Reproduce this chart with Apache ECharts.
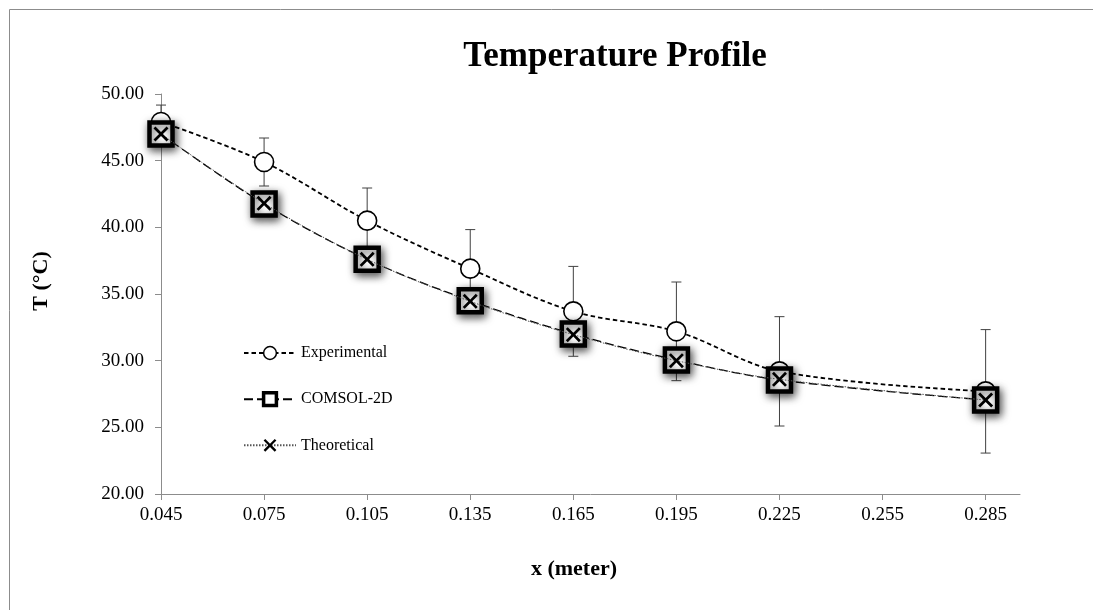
<!DOCTYPE html>
<html>
<head>
<meta charset="utf-8">
<script src="https://cdn.jsdelivr.net/npm/echarts@6/dist/echarts.min.js"></script>
<style>
html,body{margin:0;padding:0;background:#fff;}
#chart{width:1093px;height:610px;}
</style>
</head>
<body>
<div id="chart"></div>
<script>
const xValues = [0.045, 0.075, 0.105, 0.135, 0.165, 0.195, 0.225, 0.285];
const experimental = [47.9, 44.9, 40.5, 36.9, 33.7, 32.2, 29.2, 27.7];
const experimentalError = [1.27, 1.8, 2.45, 2.93, 3.37, 3.7, 4.1, 4.63];
const comsol2D = [47.0, 41.75, 37.6, 34.5, 32.0, 30.05, 28.55, 27.05];
const theoretical = [47.0, 41.8, 37.6, 34.45, 31.95, 30.0, 28.6, 27.05];
const xTicks = [0.045, 0.075, 0.105, 0.135, 0.165, 0.195, 0.225, 0.255, 0.285];
const titleText = 'Temperature Profile';
const xName = 'x (meter)';
const yName = 'T (°C)';

const serif = '"Liberation Serif", "Times New Roman", serif';
const pairs = arr => xValues.map((x, i) => [x, arr[i]]);
const errData = xValues.map((x, i) => [x, experimental[i] - experimentalError[i], experimental[i] + experimentalError[i]]);

const chart = echarts.init(document.getElementById('chart'), null, {renderer: 'canvas'});
const crossPath = 'path://M0,1.3 L1.3,0 L5,3.7 L8.7,0 L10,1.3 L6.3,5 L10,8.7 L8.7,10 L5,6.3 L1.3,10 L0,8.7 L3.7,5 Z';

chart.setOption({
  animation: false,
  backgroundColor: '#fff',
  graphic: [
    {type: 'rect', shape: {x: 9.5, y: 9.5, width: 1200, height: 700}, style: {fill: 'none', stroke: '#8c8c8c', lineWidth: 1}, silent: true, z: -1},
    {type: 'text', x: 615, y: 57, style: {text: titleText, font: 'bold 35px ' + serif, fill: '#000', textAlign: 'center', textVerticalAlign: 'middle'}},
    {type: 'text', x: 574, y: 569, style: {text: xName, font: 'bold 22px ' + serif, fill: '#000', textAlign: 'center', textVerticalAlign: 'middle'}},
    {type: 'text', x: 41, y: 281, rotation: Math.PI / 2, style: {text: yName, font: 'bold 22px ' + serif, fill: '#000', textAlign: 'center', textVerticalAlign: 'middle'}}
  ],
  grid: {left: 161, right: 73, top: 94, bottom: 116, containLabel: false},
  xAxis: {
    type: 'value', min: 0.045, max: 0.295, interval: 0.03,
    axisLine: {show: true, lineStyle: {color: '#8c8c8c', width: 1}},
    axisTick: {show: true, length: 6, inside: false, lineStyle: {color: '#8c8c8c'}, customValues: xTicks},
    axisLabel: {customValues: xTicks, margin: 12, color: '#000', fontFamily: serif, fontSize: 19, formatter: v => v.toFixed(3)},
    splitLine: {show: false}
  },
  yAxis: {
    type: 'value', min: 20, max: 50, interval: 5,
    axisLine: {show: true, lineStyle: {color: '#8c8c8c', width: 1}},
    axisTick: {show: true, length: 6, lineStyle: {color: '#8c8c8c'}},
    axisLabel: {margin: 17, color: '#000', fontFamily: serif, fontSize: 19, formatter: v => v.toFixed(2)},
    splitLine: {show: false}
  },
  legend: {
    orient: 'vertical', left: 238, top: 340,
    itemWidth: 52, itemHeight: 16, itemGap: 30,
    textStyle: {fontFamily: serif, fontSize: 16, color: '#000'},
    data: [
      {name: 'Experimental', itemStyle: {borderWidth: 1.5}},
      {name: 'COMSOL-2D', itemStyle: {borderWidth: 3.5}},
      {name: 'Theoretical'}
    ]
  },
  series: [
    {
      type: 'custom', name: 'err', z: 1, silent: true,
      data: errData,
      renderItem: (params, api) => {
        const x = api.value(0);
        const lo = api.coord([x, api.value(1)]);
        const hi = api.coord([x, api.value(2)]);
        const cw = 5;
        const st = {stroke: '#404040', lineWidth: 1};
        return {type: 'group', children: [
          {type: 'line', shape: {x1: lo[0], y1: lo[1], x2: hi[0], y2: hi[1]}, style: st},
          {type: 'line', shape: {x1: lo[0] - cw, y1: lo[1], x2: lo[0] + cw, y2: lo[1]}, style: st},
          {type: 'line', shape: {x1: hi[0] - cw, y1: hi[1], x2: hi[0] + cw, y2: hi[1]}, style: st}
        ]};
      }
    },
    {
      type: 'line', name: 'Experimental', z: 2, smooth: 0.35,
      data: pairs(experimental),
      symbol: 'circle', symbolSize: 19,
      lineStyle: {color: '#000', width: 1.8, type: [4.5, 3]},
      itemStyle: {color: '#fff', borderColor: '#000', borderWidth: 1.6}
    },
    {
      type: 'line', name: 'COMSOL-2D', z: 3, smooth: 0.35,
      data: pairs(comsol2D),
      symbol: 'rect', symbolSize: 23,
      lineStyle: {color: '#000', width: 1.3, type: [9, 4]},
      itemStyle: {color: '#fff', borderColor: '#000', borderWidth: 4.5, shadowBlur: 8, shadowColor: 'rgba(0,0,0,0.65)', shadowOffsetX: 2, shadowOffsetY: 3}
    },
    {
      type: 'line', name: 'Theoretical', z: 4, smooth: 0.35,
      data: pairs(theoretical),
      symbol: crossPath, symbolSize: 15,
      lineStyle: {color: '#555', width: 1, type: [1.5, 1.5]},
      itemStyle: {color: '#000', borderWidth: 0}
    }
  ]
});
</script>
</body>
</html>
